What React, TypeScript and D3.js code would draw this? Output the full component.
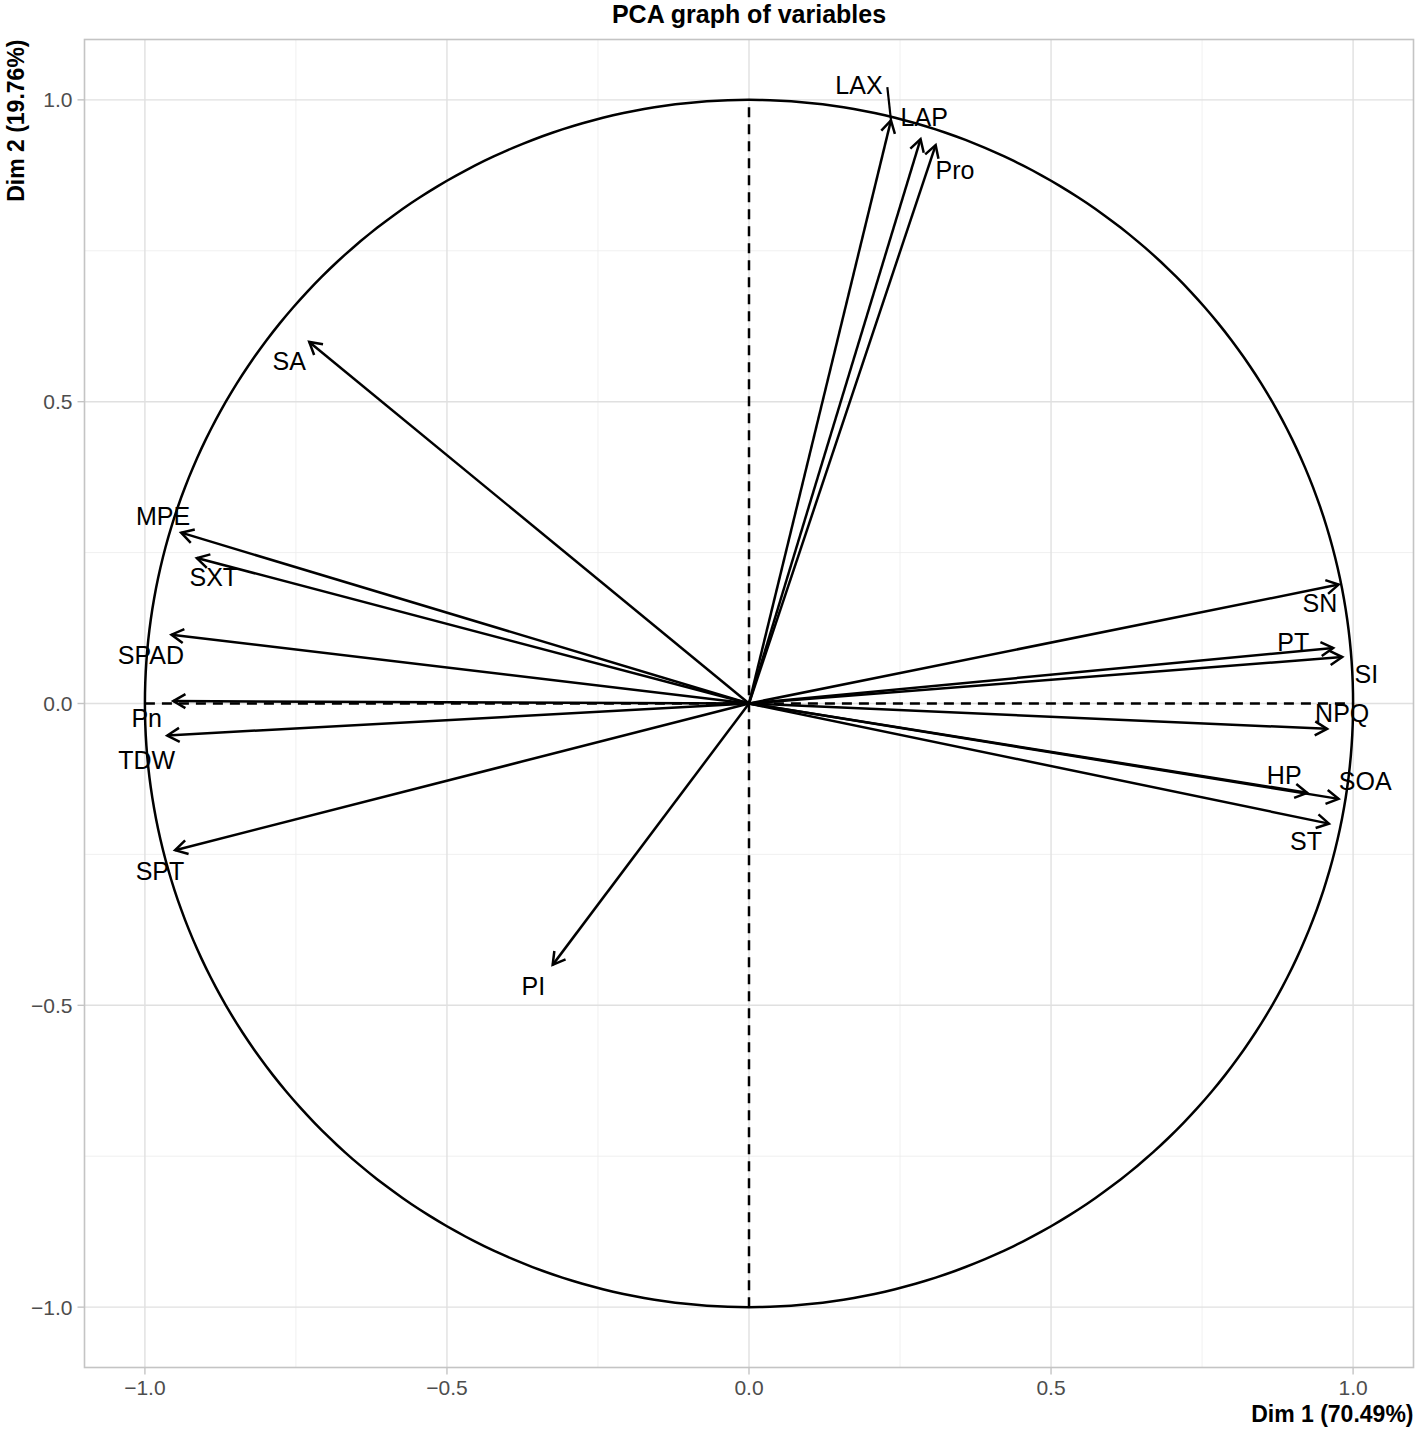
import React from "react";
import * as d3 from "d3";

const variables = ["LAX", "LAP", "Pro", "SA", "MPE", "SXT", "SPAD", "Pn", "TDW", "SPT", "PI", "SN", "PT", "SI", "NPQ", "HP", "SOA", "ST"];
const dim1 = [0.235, 0.284, 0.309, -0.728, -0.940, -0.914, -0.956, -0.953, -0.963, -0.950, -0.325, 0.976, 0.967, 0.982, 0.957, 0.924, 0.976, 0.960];
const dim2 = [0.966, 0.935, 0.925, 0.599, 0.283, 0.241, 0.114, 0.004, -0.053, -0.243, -0.433, 0.197, 0.092, 0.077, -0.042, -0.148, -0.158, -0.199];
// repelled label positions (data units)
const labelX = [0.182, 0.290, 0.341, -0.761, -0.970, -0.886, -0.990, -0.997, -0.997, -0.975, -0.357, 0.945, 0.901, 1.022, 0.982, 0.886, 1.020, 0.922];
const labelY = [1.025, 0.972, 0.884, 0.567, 0.310, 0.209, 0.080, -0.024, -0.094, -0.277, -0.468, 0.167, 0.102, 0.049, -0.015, -0.119, -0.128, -0.227];
// ggrepel connector for LAX (start point, data units)
const repelFrom = { name: "LAX", x: 0.229, y: 1.021 };

const majorTicks = [-1.0, -0.5, 0.0, 0.5, 1.0];
const minorTicks = [-0.75, -0.25, 0.25, 0.75];
const titleText = "PCA graph of variables";
const xTitle = "Dim 1 (70.49%)";
const yTitle = "Dim 2 (19.76%)";

const W = 1418;
const H = 1429;
const FONT = "'Liberation Sans', Arial, Helvetica, sans-serif";

export default function App() {
  const x = d3.scaleLinear().domain([-1.1, 1.1]).range([84.5, 1413.5]);
  const y = d3.scaleLinear().domain([-1.1, 1.1]).range([1367.5, 39.5]);
  const x0 = x.range()[0], x1 = x.range()[1];
  const y0 = y.range()[1], y1 = y.range()[0];

  const circlePts = d3.range(0, 361, 1).map((a) => [Math.cos((a * Math.PI) / 180), Math.sin((a * Math.PI) / 180)] as [number, number]);
  const circlePath = d3.line<[number, number]>().x((d) => x(d[0])).y((d) => y(d[1]))(circlePts) || "";

  const fmt = (v: number) => d3.format(".1f")(v).replace("-", "\u2212");

  const headLen = 14;
  const headAng = (30 * Math.PI) / 180;
  const lw = 2.5;

  return (
    <svg width={W} height={H} style={{ position: "absolute", left: 0, top: 0, background: "#fff" }} fontFamily={FONT}>
      <rect x={0} y={0} width={W} height={H} fill="#fff" />
      {/* grid */}
      {minorTicks.map((t) => (
        <g key={"mn" + t}>
          <line x1={x(t)} x2={x(t)} y1={y0} y2={y1} stroke="#ececec" strokeWidth={0.8} />
          <line x1={x0} x2={x1} y1={y(t)} y2={y(t)} stroke="#ececec" strokeWidth={0.8} />
        </g>
      ))}
      {majorTicks.map((t) => (
        <g key={"mj" + t}>
          <line x1={x(t)} x2={x(t)} y1={y0} y2={y1} stroke="#e0e0e0" strokeWidth={1.4} />
          <line x1={x0} x2={x1} y1={y(t)} y2={y(t)} stroke="#e0e0e0" strokeWidth={1.4} />
        </g>
      ))}
      <rect x={x0} y={y0} width={x1 - x0} height={y1 - y0} fill="none" stroke="#c4c4c4" strokeWidth={1.6} />
      {/* ticks and tick labels */}
      {majorTicks.map((t) => (
        <g key={"tk" + t}>
          <line x1={x(t)} x2={x(t)} y1={y1} y2={y1 + 7} stroke="#c4c4c4" strokeWidth={1.4} />
          <text x={x(t)} y={y1 + 27} textAnchor="middle" fontSize={21} fill="#4d4d4d">{fmt(t)}</text>
          <line x1={x0 - 7} x2={x0} y1={y(t)} y2={y(t)} stroke="#c4c4c4" strokeWidth={1.4} />
          <text x={x0 - 12} y={y(t)} dy="0.36em" textAnchor="end" fontSize={21} fill="#4d4d4d">{fmt(t)}</text>
        </g>
      ))}
      {/* titles */}
      <text x={(x0 + x1) / 2} y={23} textAnchor="middle" fontSize={25} fontWeight="bold" fill="#000">{titleText}</text>
      <text x={x1} y={1421.5} textAnchor="end" fontSize={23} fontWeight="bold" fill="#000">{xTitle}</text>
      <text transform={`translate(24,${y0}) rotate(-90)`} textAnchor="end" fontSize={23} fontWeight="bold" fill="#000">{yTitle}</text>
      {/* correlation circle */}
      <path d={circlePath} fill="none" stroke="#000" strokeWidth={lw} />
      <line x1={x(-1)} x2={x(1)} y1={y(0)} y2={y(0)} stroke="#000" strokeWidth={lw} strokeDasharray="10,7" />
      <line x1={x(0)} x2={x(0)} y1={y(-1)} y2={y(1)} stroke="#000" strokeWidth={lw} strokeDasharray="10,7" />
      {/* arrows */}
      {variables.map((v, i) => {
        const tx = x(dim1[i]);
        const ty = y(dim2[i]);
        const ang = Math.atan2(ty - y(0), tx - x(0));
        const b1x = tx - headLen * Math.cos(ang - headAng);
        const b1y = ty - headLen * Math.sin(ang - headAng);
        const b2x = tx - headLen * Math.cos(ang + headAng);
        const b2y = ty - headLen * Math.sin(ang + headAng);
        return (
          <g key={v} fill="none" stroke="#000" strokeWidth={lw} strokeLinejoin="miter" strokeLinecap="butt">
            <line x1={x(0)} y1={y(0)} x2={tx} y2={ty} />
            <polyline points={`${b1x},${b1y} ${tx},${ty} ${b2x},${b2y}`} />
          </g>
        );
      })}
      {/* repel connector */}
      {(() => {
        const i = variables.indexOf(repelFrom.name);
        return <line x1={x(repelFrom.x)} y1={y(repelFrom.y)} x2={x(dim1[i])} y2={y(dim2[i])} stroke="#000" strokeWidth={2.2} />;
      })()}
      {/* labels */}
      {variables.map((v, i) => (
        <text key={"l" + v} x={x(labelX[i])} y={y(labelY[i])} dy="0.36em" textAnchor="middle" fontSize={25} fill="#000">{v}</text>
      ))}
    </svg>
  );
}
